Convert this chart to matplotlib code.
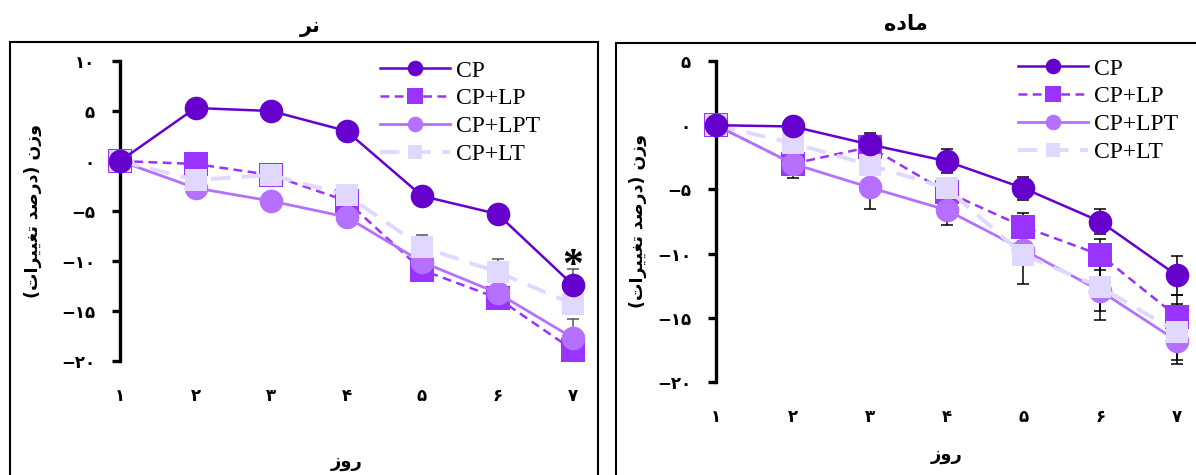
import matplotlib
matplotlib.use("Agg")
import matplotlib.pyplot as plt
from matplotlib.patches import Rectangle

# days and data (percent weight change)
days = [1, 2, 3, 4, 5, 6, 7]
series_names = ["CP", "CP+LP", "CP+LPT", "CP+LT"]

# male (نر)
m_cp  = [0, 5.3, 5.0, 3.0, -3.5, -5.3, -12.4]
m_lp  = [0, -0.3, -1.4, -4.0, -10.9, -13.7, -18.9]
m_lpt = [0, -2.7, -4.0, -5.6, -10.1, -13.2, -17.7]
m_lt  = [0, -1.9, -1.4, -3.4, -8.6, -11.1, -14.3]
m_cp_err  = [0, 0.5, 0.5, 0.5, 0.5, 0.5, 1.6]
m_lp_err  = [0, 0.5, 0.5, 0.5, 0.5, 0.5, 0.5]
m_lpt_err = [0, 0.5, 0.5, 0.5, 0.5, 0.5, 1.9]
m_lt_err  = [0, 0.5, 0.5, 0.5, 1.2, 1.3, 0.5]

# female (ماده)
f_cp  = [0, -0.1, -1.5, -2.8, -4.9, -7.5, -11.7]
f_lp  = [0, -3.0, -1.7, -5.2, -7.9, -10.1, -14.9]
f_lpt = [0, -3.0, -4.85, -6.6, -9.7, -12.9, -16.8]
f_lt  = [0, -1.4, -3.1, -4.9, -10.1, -12.6, -16.1]
f_cp_err  = [0, 0.3, 0.3, 0.95, 0.9, 0.95, 1.55]
f_lp_err  = [0, 0.5, 1.1, 0.6, 1.1, 1.2, 1.7]
f_lpt_err = [0, 1.1, 1.65, 1.2, 0.5, 2.3, 1.8]
f_lt_err  = [0, 0.5, 0.5, 0.5, 2.3, 1.9, 2.2]

# Persian text in presentation forms, visual order
title_m = "\uFEAE\uFEE7"                      # نر
title_f = "\uFEE9\uFEA9\uFE8E\uFEE3"          # ماده
xlabel_txt = "\uFEAF\uFEED\uFEAD"             # روز
ylabel_txt = ("(\uFE95\uFE8D\uFEAE\uFEF4\uFEF4\uFED0\uFE97 "
              "\uFEAA\uFEBB\uFEAD\uFEA9) \uFEE5\uFEAF\uFEED")  # وزن (درصد تغییرات)

FA = str.maketrans("0123456789", "۰۱۲۳۴۵۶۷۸۹")

def fa(n):
    s = str(abs(n)).translate(FA)
    return "\u2212" + s if n < 0 else s

colors = {"CP": "#6600CC", "CP+LP": "#9933FF", "CP+LPT": "#B570FF", "CP+LT": "#E0D8FF"}
styles = {
    "CP":     dict(marker="o", ms=17, ls="-", lw=1.8),
    "CP+LP":  dict(marker="s", ms=17, ls=(0, (3.5, 2.2)), lw=1.8),
    "CP+LPT": dict(marker="o", ms=17, ls="-", lw=2.0),
    "CP+LT":  dict(marker="s", ms=15.5, ls=(0, (5, 3)), lw=2.8),
}
draw_order = ["CP+LP", "CP+LPT", "CP+LT", "CP"]

fig = plt.figure(figsize=(11.96, 4.75), dpi=100)

# panel frames
fig.add_artist(Rectangle((10 / 1196, -0.05), 588 / 1196, 1.05 - 42 / 475, transform=fig.transFigure,
                         fill=False, ec="black", lw=1.5))
fig.add_artist(Rectangle((616 / 1196, -0.05), 0.6, 1.05 - 43 / 475, transform=fig.transFigure,
                         fill=False, ec="black", lw=1.5))

persian = ["DejaVu Sans"]


def panel(rect, data, errs, ylim, yticks, ecolor, title, title_xy, legend_xy, xlab_y, ylab_x):
    ax = fig.add_axes(rect)
    z = 3
    for name in draw_order:
        # error bars sit under every marker
        ax.errorbar(days, data[name], yerr=errs[name], fmt="none", ecolor=ecolor,
                    elinewidth=1.1, capsize=4, capthick=1.1, zorder=1, clip_on=False)
        st = styles[name]
        ax.plot(days, data[name], color=colors[name], marker=st["marker"], markersize=st["ms"],
                markeredgewidth=0, linestyle=st["ls"], linewidth=st["lw"], label=name,
                zorder=z, clip_on=False)
        z += 1
    ax.set_xlim(1, 7)
    ax.set_ylim(*ylim)
    ax.set_yticks(yticks)
    ax.set_yticklabels([fa(v) for v in yticks], family=persian, fontweight="bold", fontsize=12)
    ax.set_xticks(days)
    ax.set_xticklabels([fa(d) for d in days], family=persian, fontweight="bold", fontsize=12)
    for s in ["top", "right", "bottom"]:
        ax.spines[s].set_visible(False)
    ax.spines["left"].set_linewidth(2.4)
    ax.tick_params(axis="y", direction="out", length=6, width=2.4, pad=12)
    ax.tick_params(axis="x", length=0, pad=19)
    ax.set_xlabel(xlabel_txt, family=persian, fontweight="bold", fontsize=13)
    ax.xaxis.set_label_coords(0.5, xlab_y)
    ax.xaxis.label.set_va("center")
    ax.set_ylabel(ylabel_txt, family=persian, fontweight="bold", fontsize=12.5)
    ax.yaxis.set_label_coords(ylab_x, 0.5)
    ax.yaxis.label.set_va("center")
    handles, labels = ax.get_legend_handles_labels()
    order = [labels.index(n) for n in series_names]
    ax.legend([handles[i] for i in order], series_names, loc="upper left",
              bbox_to_anchor=legend_xy, bbox_transform=fig.transFigure, frameon=False,
              prop={"family": "Liberation Serif", "size": 17}, handlelength=2.95,
              handletextpad=0.25, labelspacing=0.27, borderpad=0, borderaxespad=0,
              markerscale=0.66, numpoints=1)
    fig.text(title_xy[0], title_xy[1], title, family=persian, fontweight="bold",
             fontsize=15, ha="center", va="center")
    return ax


axm = panel([120 / 1196, 1 - 361 / 475, 453 / 1196, 300 / 475],
            {"CP": m_cp, "CP+LP": m_lp, "CP+LPT": m_lpt, "CP+LT": m_lt},
            {"CP": m_cp_err, "CP+LP": m_lp_err, "CP+LPT": m_lpt_err, "CP+LT": m_lt_err},
            (-20, 10), [10, 5, 0, -5, -10, -15, -20], "#555555",
            title_m, (310 / 1196, 1 - 27 / 475), (380 / 1196, 1 - 60 / 475), -0.337, -0.192)
axm.annotate("*", xy=(7, m_cp[-1]), xytext=(0, 13), textcoords="offset points",
             ha="center", va="center", fontsize=30, fontweight="bold",
             family="Liberation Serif", zorder=20)

axf = panel([716 / 1196, 1 - 382 / 475, 461 / 1196, 321 / 475],
            {"CP": f_cp, "CP+LP": f_lp, "CP+LPT": f_lpt, "CP+LT": f_lt},
            {"CP": f_cp_err, "CP+LP": f_lp_err, "CP+LPT": f_lpt_err, "CP+LT": f_lt_err},
            (-20, 5), [5, 0, -5, -10, -15, -20], "black",
            title_f, (906 / 1196, 1 - 24 / 475), (1018 / 1196, 1 - 58 / 475), -0.227, -0.169)

plt.savefig("out.png", dpi=100)
